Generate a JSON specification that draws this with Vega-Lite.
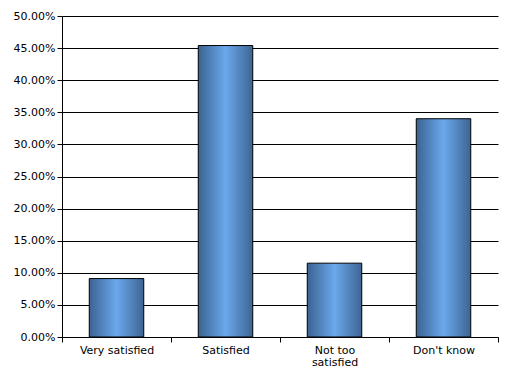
{
  "$schema": "https://vega.github.io/schema/vega-lite/v6.json",
  "width": 436,
  "height": 321,
  "autosize": {"type": "none"},
  "padding": {"left": 62, "top": 16, "right": 10, "bottom": 37},
  "background": "white",
  "data": {"values": [
    {"category": "Very satisfied", "value": 0.091},
    {"category": "Satisfied", "value": 0.454},
    {"category": "Not too satisfied", "value": 0.115},
    {"category": "Don't know", "value": 0.340}
  ]},
  "mark": {
    "type": "bar",
    "width": {"band": 0.5},
    "stroke": "black",
    "strokeWidth": 1,
    "color": {
      "gradient": "linear",
      "x1": 0, "x2": 1, "y1": 0, "y2": 0,
      "stops": [
        {"offset": 0, "color": "#3b6392"},
        {"offset": 0.5, "color": "#6ba8ec"},
        {"offset": 1, "color": "#3d6593"}
      ]
    }
  },
  "encoding": {
    "x": {
      "field": "category",
      "type": "nominal",
      "sort": null,
      "scale": {"paddingInner": 0, "paddingOuter": 0},
      "axis": {
        "title": null,
        "labelAngle": 0,
        "tickBand": "extent",
        "domainColor": "black",
        "tickColor": "black",
        "tickSize": 5,
        "labelFont": "DejaVu Sans",
        "labelFontSize": 11,
        "labelColor": "black",
        "labelPadding": 2,
        "labelLineHeight": 12,
        "labelExpr": "datum.label == 'Not too satisfied' ? ['Not too', 'satisfied'] : datum.label"
      }
    },
    "y": {
      "field": "value",
      "type": "quantitative",
      "scale": {"domain": [0, 0.5], "nice": false},
      "axis": {
        "title": null,
        "format": ".2%",
        "values": [0, 0.05, 0.1, 0.15, 0.2, 0.25, 0.3, 0.35, 0.4, 0.45, 0.5],
        "grid": true,
        "gridColor": "black",
        "gridOpacity": 1,
        "domainColor": "black",
        "tickColor": "black",
        "tickSize": 5,
        "labelFont": "DejaVu Sans",
        "labelFontSize": 11,
        "labelColor": "black",
        "labelPadding": 2
      }
    }
  },
  "config": {"view": {"stroke": null}}
}
